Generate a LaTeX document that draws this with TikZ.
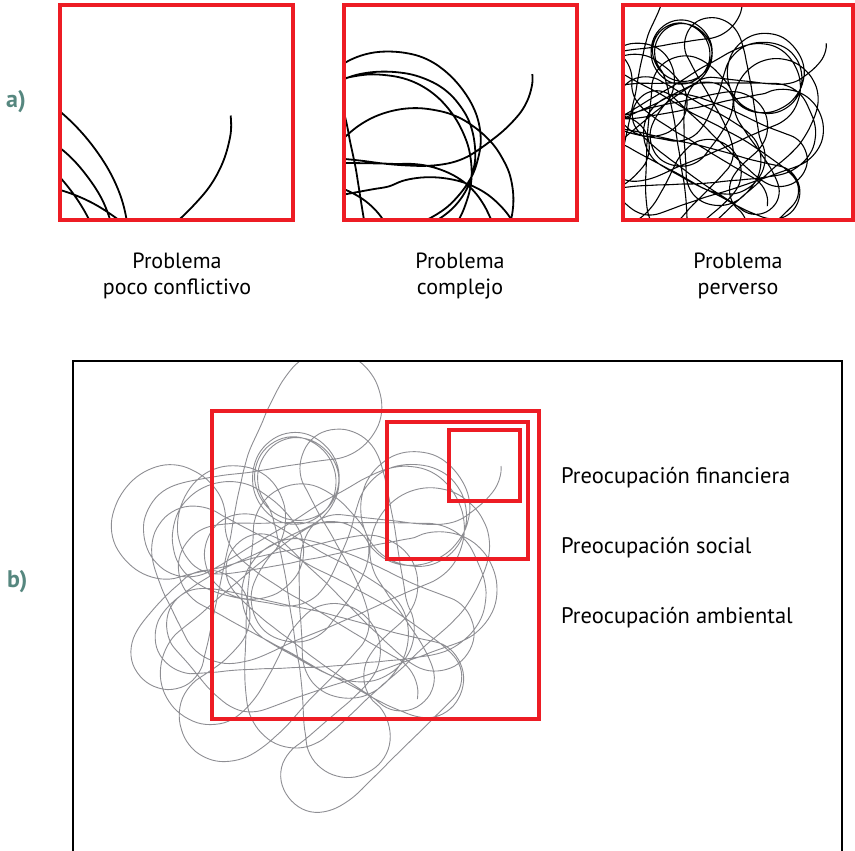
\documentclass[tikz,border=0pt]{standalone}
\usepackage{fontspec}
\setmainfont{PT Sans}
\definecolor{boxred}{HTML}{ED1C24}
\definecolor{tanglegray}{HTML}{8E8E93}
\definecolor{tagteal}{HTML}{56877F}

% ---------------------------------------------------------------
% One long scribble, built once and reused at four zooms.
% A pen chases random targets inside an ellipse with a limited
% turning rate. Coordinates: panel b) frame, 1 unit = 1 px, y down.
% ---------------------------------------------------------------
\pgfmathsetseed{11}
\def\wxpos{501}\def\wypos{472}\def\whead{90}
\def\wtx{440}\def\wty{530}\def\wmax{12}
\def\tanglepts{(501,466) (501,472)}
\newcount\wstep \wstep=0
\newcount\wage \wage=0
\loop
  \pgfmathsetmacro\wdx{\wtx-\wxpos}
  \pgfmathsetmacro\wdy{\wty-\wypos}
  \pgfmathsetmacro\wdist{max(0.01,veclen(\wdx,\wdy))}
  \pgfmathtruncatemacro\wnew{(\wdist<28)+(\the\wage>70)}
  \ifnum\wnew>0
    \pgfmathsetmacro\wang{180*rand}
    \pgfmathsetmacro\wrad{sqrt(rnd)}
    \pgfmathsetmacro\wtx{318+172*\wrad*cos(\wang)}
    \pgfmathsetmacro\wty{607+168*\wrad*sin(\wang)}
    \pgfmathsetmacro\wmax{8+7*rnd}
    \wage=0
    \pgfmathsetmacro\wdx{\wtx-\wxpos}
    \pgfmathsetmacro\wdy{\wty-\wypos}
    \pgfmathsetmacro\wdist{max(0.01,veclen(\wdx,\wdy))}
  \fi
  \pgfmathsetmacro\wcross{max(-1,min(1,(cos(\whead)*\wdy-sin(\whead)*\wdx)/\wdist))}
  \pgfmathsetmacro\wdot{(cos(\whead)*\wdx+sin(\whead)*\wdy)/\wdist}
  \pgfmathsetmacro\wdiff{(\wdot>=0)*asin(\wcross)+(\wdot<0)*(180*(2*(\wcross>=0)-1)-asin(\wcross))}
  \pgfmathsetmacro\wturn{max(-\wmax,min(\wmax,0.4*\wdiff))+2.5*rand}
  \pgfmathsetmacro\whead{mod(\whead+\wturn+720,360)}
  \pgfmathsetmacro\wxpos{max(0,min(800,\wxpos+9*cos(\whead)))}
  \pgfmathsetmacro\wypos{max(300,min(851,\wypos+9*sin(\whead)))}
  \edef\tanglepts{\tanglepts (\wxpos,\wypos)}
  \advance\wage 1
  \advance\wstep 1
\ifnum\wstep<1500 \repeat

% draw the scribble with the given style
\newcommand\drawtangle[1]{%
  \edef\tangledraw{\noexpand\draw[#1] plot[smooth,tension=0.6] coordinates {\tanglepts};}%
  \tangledraw}

% zoomed view: source square (#1,#2)-(#3,#4) shown in target (#5,#6)-(#7,#8)
\newcommand\zoomview[9]{%
  \begin{scope}
    \clip (#5,#6) rectangle (#7,#8);
    \pgfmathsetmacro\zsx{(#7-#5)/(#3-#1)}
    \pgfmathsetmacro\zsy{(#8-#6)/(#4-#2)}
    \pgfmathsetmacro\zox{#5-#1*\zsx}
    \pgfmathsetmacro\zoy{#6-#2*\zsy}
    \begin{scope}[shift={(\zox,\zoy)},xscale=\zsx,yscale=\zsy]
      \drawtangle{#9}
    \end{scope}
  \end{scope}}

\tikzset{
  redframe/.style={draw=boxred, line width=4pt},
  caption/.style={font=\fontsize{22}{26}\selectfont, inner sep=0pt, anchor=base},
  concern/.style={font=\fontsize{22.5}{26}\selectfont, inner sep=0pt, anchor=base west},
  tag/.style={font=\fontsize{24}{28}\selectfont\bfseries, text=tagteal, inner sep=0pt, anchor=base west},
  inkthick/.style={black, line width=1.8pt},
  inkthin/.style={black, line width=1.1pt},
  inkgray/.style={tanglegray, line width=0.9pt},
}

\begin{document}
\begin{tikzpicture}[x=1pt,y=-1pt]
\useasboundingbox (0,0) rectangle (855,851);

% ---------------- panel a) ----------------
\node[tag] (taga) at (6,107) {a)};

\zoomview{449}{429.5}{520}{500.5}{60}{5}{293}{220}{inkthick}
\zoomview{387}{422}{528}{559}{343.5}{5}{577}{220}{inkthick}
\zoomview{212}{411}{539}{719}{622.5}{5}{853}{220}{inkthin}

\draw[redframe] (60,5) rectangle (293,220);
\draw[redframe] (343.5,5) rectangle (577,220);
\draw[redframe] (622.5,5) rectangle (853,220);

\node[caption] (capa1) at (177,268) {Problema};
\node[caption] (capa2) at (177,294) {poco conflictivo};
\node[caption] (capb1) at (460,268) {Problema};
\node[caption] (capb2) at (460,294) {complejo};
\node[caption] (capc1) at (738,268) {Problema};
\node[caption] (capc2) at (738,294) {perverso};

% ---------------- panel b) ----------------
\node[tag] (tagb) at (7,587) {b)};

% the scribble stays inside the open frame
\begin{scope}
  \clip (74,362) rectangle (841,851);
  \drawtangle{inkgray}
\end{scope}
\draw[line width=1.2pt] (73,853) -- (73,361) -- (842,361) -- (842,853);

\draw[redframe] (212,411) rectangle (539,719);
\draw[redframe] (387,422) rectangle (528,559);
\draw[redframe] (449,429.5) rectangle (520,500.5);

\node[concern] (fin) at (561,483) {Preocupación financiera};
\node[concern] (soc) at (561,553) {Preocupación social};
\node[concern] (amb) at (561,623) {Preocupación ambiental};
\end{tikzpicture}
\end{document}
